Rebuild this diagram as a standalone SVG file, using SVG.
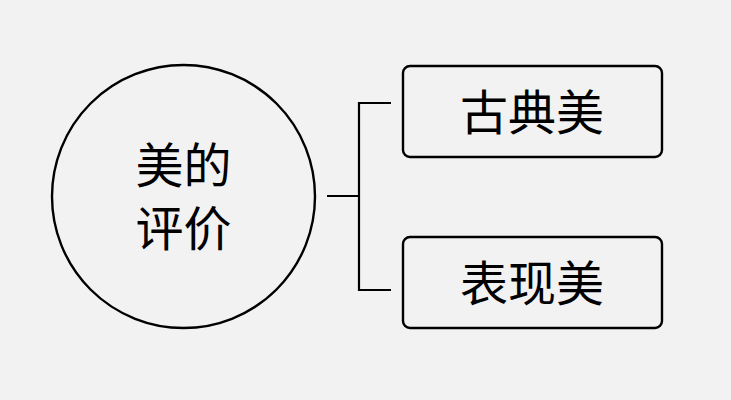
<svg xmlns="http://www.w3.org/2000/svg" width="731" height="400" viewBox="0 0 731 400">
<style>
.shape{fill:none;stroke:#000;stroke-width:2.4}
.conn{fill:none;stroke:#000;stroke-width:2.2}
.t{font-family:"Noto Sans CJK SC","Noto Sans",sans-serif;font-size:48px;fill:#000;text-anchor:middle;dominant-baseline:central}
</style>
<rect width="731" height="400" fill="#f2f2f2"/>
<g id="root">
<circle class="shape" cx="183.5" cy="196.5" r="131.5"/>
<text class="t"><tspan x="183.5" y="162">美的</tspan><tspan x="183.5" y="225">评价</tspan></text>
</g>
<g id="connectors">
<path class="conn" d="M327 196H359M391 103H359V290H391"/>
</g>
<g id="classic">
<rect class="shape" x="403" y="66" width="259" height="91" rx="7"/>
<text class="t" x="532" y="108.5">古典美</text>
</g>
<g id="expressive">
<rect class="shape" x="403" y="237" width="259" height="91" rx="7"/>
<text class="t" x="532" y="279.5">表现美</text>
</g>
</svg>
